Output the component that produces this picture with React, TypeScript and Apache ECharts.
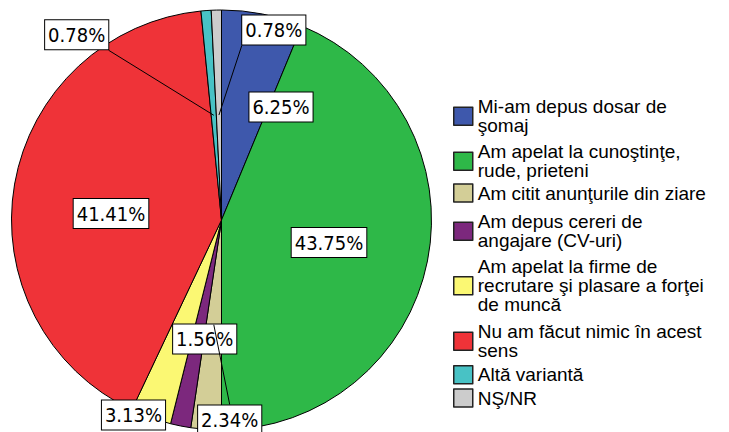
import React, { useEffect, useRef } from "react";
import * as echarts from "echarts";

const categories = [
  "Mi-am depus dosar de şomaj",
  "Am apelat la cunoştinţe, rude, prieteni",
  "Am citit anunţurile din ziare",
  "Am depus cereri de angajare (CV-uri)",
  "Am apelat la firme de recrutare şi plasare a forţei de muncă",
  "Nu am făcut nimic în acest sens",
  "Altă variantă",
  "NŞ/NR",
];
const legendLabels = [
  "Mi-am depus dosar de\nşomaj",
  "Am apelat la cunoştinţe,\nrude, prieteni",
  "Am citit anunţurile din ziare",
  "Am depus cereri de\nangajare (CV-uri)",
  "Am apelat la firme de\nrecrutare şi plasare a forţei\nde muncă",
  "Nu am făcut nimic în acest\nsens",
  "Altă variantă",
  "NŞ/NR",
];
const values = [6.25, 43.75, 2.34, 1.56, 3.13, 41.41, 0.78, 0.78];
const colors = ["#3E58AC", "#2EB848", "#D3CE97", "#7C287D", "#FBF873", "#EF3338", "#48C2C5", "#CCCCCC"];

// layout (not data)
const CX = 221.5;
const CY = 220;
const R = 210;
const labelPos = [
  [281, 107],
  [329, 242.5],
  [229.7, 420],
  [204.7, 339],
  [133.5, 415],
  [111, 213.5],
  [76.7, 34.8],
  [273.8, 30],
];
const BOX_W = 64;
const BOX_H = 31;
const leaderFrom: Record<number, string> = { 2: "top", 6: "bottomRight", 7: "bottomLeft" };
const legendTops = [97.3, 142.3, 183.3, 212.3, 257.3, 322.3, 365, 388.3];

export default function App() {
  const ref = useRef<HTMLDivElement>(null);
  useEffect(() => {
    if (!ref.current) return;
    const chart = echarts.init(ref.current, null, { renderer: "svg" });
    const total = values.reduce((a, b) => a + b, 0);
    const midPoint = (i: number) => {
      let cum = 0;
      for (let k = 0; k < i; k++) cum += values[k];
      const a = ((cum + values[i] / 2) / total) * Math.PI * 2;
      return [CX + 0.5 * R * Math.sin(a), CY - 0.5 * R * Math.cos(a)];
    };
    const leaders = Object.keys(leaderFrom).map((k) => {
      const i = Number(k);
      const [x, y] = labelPos[i];
      const f = leaderFrom[i];
      let s: number[];
      if (f === "top") s = [x, y - BOX_H / 2];
      else if (f === "bottomRight") s = [x + BOX_W / 2, y + BOX_H / 2];
      else s = [x - BOX_W / 2, y + BOX_H / 2];
      const e = midPoint(i);
      return {
        type: "line",
        z: 5,
        silent: true,
        shape: { x1: s[0], y1: s[1], x2: e[0], y2: e[1] },
        style: { stroke: "#000", lineWidth: 1 },
      };
    });
    const legends = categories.map((name, i) => ({
      data: [name],
      left: 453,
      top: legendTops[i],
      orient: "vertical",
      padding: 0,
      itemGap: 0,
      itemWidth: 19,
      itemHeight: 18,
      icon: "rect",
      selectedMode: false,
      itemStyle: { borderColor: "#222", borderWidth: 1.5 },
      formatter: () => legendLabels[i],
      textStyle: {
        fontFamily: '"Liberation Sans", Arial, sans-serif',
        fontSize: 19,
        lineHeight: 19,
        color: "#000",
      },
    }));
    chart.setOption({
      animation: false,
      backgroundColor: "#fff",
      legend: legends,
      graphic: leaders,
      series: [
        {
          type: "pie",
          center: [CX, CY],
          radius: R,
          startAngle: 90,
          clockwise: true,
          avoidLabelOverlap: false,
          silent: true,
          emphasis: { disabled: true },
          itemStyle: { borderColor: "#000", borderWidth: 1 },
          data: categories.map((name, i) => ({
            name,
            value: values[i],
            itemStyle: { color: colors[i] },
          })),
          label: {
            show: true,
            position: "outside",
            formatter: (p: any) => `${Number(p.value).toFixed(2)}%`,
            fontFamily: '"DejaVu Sans Condensed", "DejaVu Sans", sans-serif',
            fontSize: 20,
            lineHeight: 22,
            color: "#000",
            backgroundColor: "#fff",
            borderColor: "#000",
            borderWidth: 1,
            padding: [4, 3, 3, 3],
          },
          labelLine: { show: false },
          labelLayout: (params: any) => {
            const [x, y] = labelPos[params.dataIndex];
            return { x, y, align: "center", verticalAlign: "middle" };
          },
        },
      ],
    });
    return () => chart.dispose();
  }, []);
  return (
    <div
      ref={ref}
      style={{ position: "fixed", left: 0, top: 0, width: 729, height: 432, background: "#fff" }}
    />
  );
}
